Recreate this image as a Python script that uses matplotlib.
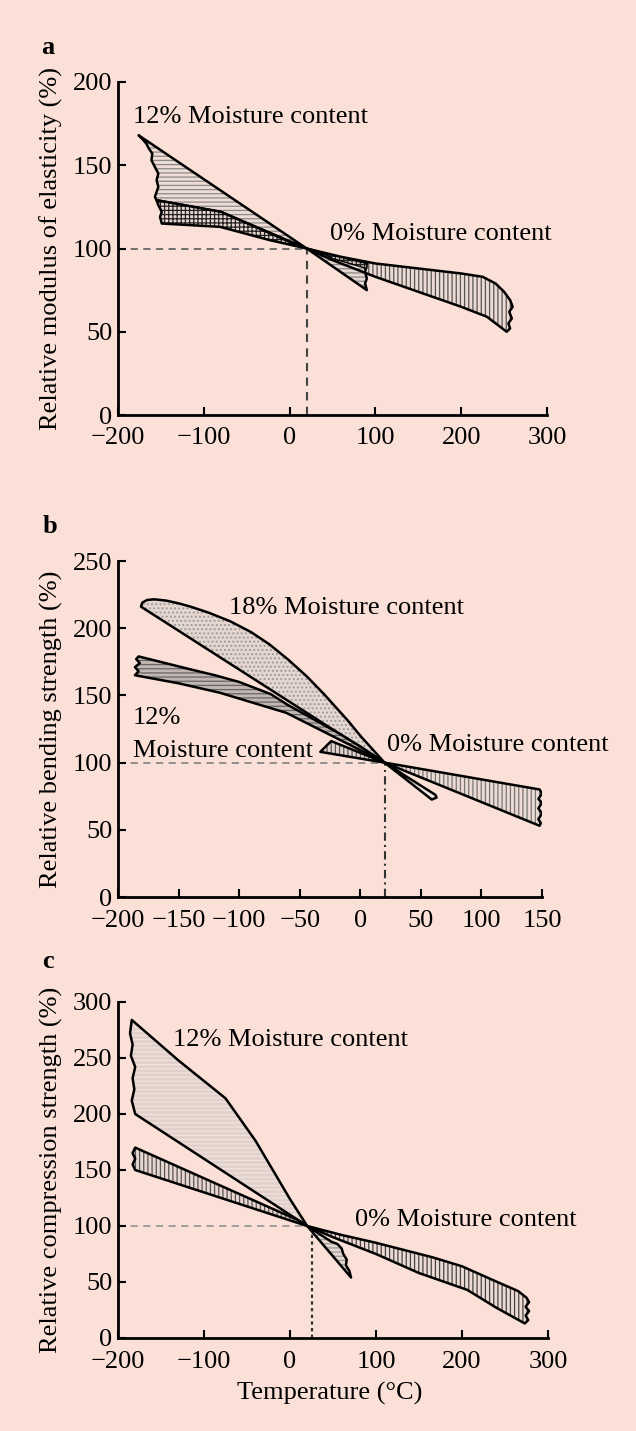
import matplotlib
matplotlib.use("Agg")
import matplotlib.pyplot as plt
from matplotlib.patches import Polygon

plt.rcParams['font.family'] = ['Liberation Serif', 'DejaVu Serif']
plt.rcParams['hatch.linewidth'] = 0.9
FS = 19
BG = '#fae0d7'

# ---------------- Panel a : relative modulus of elasticity ----------------
a_xticks = [-200, -100, 0, 100, 200, 300]
a_yticks = [0, 50, 100, 150, 200]
# 12% MC light region (outline)
a_mc12_T = [-176, 20, -80, -155, -157, -153, -155, -153, -158, -161, -160, -164, -167, -172, -176]
a_mc12_V = [168, 100, 122, 129, 131, 137, 141, 145, 150, 153, 157, 160, 163, 166, 168]
# 12% MC grid region
a_grid_T = [-155, -80, 0, 20, -23, -81, -149, -151, -149, -153, -155]
a_grid_V = [129, 122, 104, 100, 105, 113, 115, 119, 122, 126, 129]
# 0% MC big band
a_mc0_T = [20, 60, 100, 150, 200, 225, 240, 250, 257, 260, 256, 259, 255, 257, 253, 230, 200, 150, 100, 50, 20]
a_mc0_V = [100, 95, 91, 88, 85, 83, 79, 74, 69, 65, 62, 58, 55, 52, 50, 59, 65, 74, 83, 93, 100]
# small triangle
a_tri_T = [20, 45, 90, 88, 90, 88, 90, 20]
a_tri_V = [100, 96, 91, 86, 82, 79, 75, 100]
a_tgrid_T = [40, 90, 90, 50]
a_tgrid_V = [97, 91, 88, 94]

# ---------------- Panel b : relative bending strength ----------------
b_xticks = [-200, -150, -100, -50, 0, 50, 100, 150]
b_yticks = [0, 50, 100, 150, 200, 250]
b_mc18_T = [-181, -180, -176, -170, -160, -150, -140, -125, -107, -90, -75, -60, -44, -30, -20, -10, 0, 10, 20, -181]
b_mc18_V = [216, 219, 221, 221.5, 220.5, 218.5, 216, 211.5, 205, 197, 188, 177, 164, 151, 141, 131, 120, 110, 100, 216]
b_mc12_T = [-183, -143, -120, -100, -74, -60, -40, -20, 0, 20, -6, -61, -116, -150, -186, -183, -186, -182, -185, -183]
b_mc12_V = [179, 170, 165, 160, 151, 143, 133, 123, 112, 100, 112, 137, 152, 159, 165, 168, 171, 174, 177, 179]
b_tri_T = [-33, -24, 20, -33]
b_tri_V = [108, 116, 100, 108]
b_mc0_T = [20, 148, 150, 147, 150, 147, 150, 147, 149, 148, 20]
b_mc0_V = [100, 80, 77, 73, 70, 66, 62, 58, 55, 53, 100]
b_sl_T = [20, 62, 63, 59, 20]
b_sl_V = [100, 76, 74, 72.5, 100]

# ---------------- Panel c : relative compression strength ----------------
c_xticks = [-200, -100, 0, 100, 200, 300]
c_yticks = [0, 50, 100, 150, 200, 250, 300]
c_mc12_T = [-184, -130, -75, -40, 0, 20, -180, -184, -181, -183, -180, -185, -183, -186, -184]
c_mc12_V = [284, 248, 214, 176, 124, 100, 200, 212, 222, 232, 242, 252, 262, 272, 284]
c_band_T = [-180, 10, 20, -180, -183, -180, -183, -180]
c_band_V = [170, 105, 100, 150, 155, 160, 165, 170]
c_mc0_T = [20, 60, 100, 166, 200, 244, 265, 275, 278, 274, 278, 274, 277, 273, 240, 206, 150, 100, 50, 20]
c_mc0_V = [100, 92, 85, 72, 64, 49, 42, 36, 32, 28, 24, 20, 16, 13, 27, 43, 58, 75, 90, 100]
c_sm_T = [20, 38, 48, 55, 60, 62, 66, 65, 69, 71, 20]
c_sm_V = [100, 91, 86, 84, 80, 75, 70, 65, 60, 54, 100]

fig = plt.figure(figsize=(6.36, 14.31), dpi=100, facecolor=BG)
W, H = 636, 1431


def make_ax(left, right, top, bottom):
    ax = fig.add_axes([left / W, 1 - bottom / H, (right - left) / W, (bottom - top) / H])
    ax.set_facecolor(BG)
    for s in ['top', 'right']:
        ax.spines[s].set_visible(False)
    for s in ['left', 'bottom']:
        ax.spines[s].set_linewidth(2.0)
    ax.tick_params(direction='in', length=6, width=1.5, labelsize=FS, pad=4)
    ax.tick_params(axis='x', pad=9)
    return ax


def region(ax, T, V, hatch, hcol, fcol, lw=1.8, z=2):
    pts = list(zip(T, V))
    ax.add_patch(Polygon(pts, closed=True, facecolor=fcol, edgecolor=hcol,
                         hatch=hatch, linewidth=0, zorder=z))
    ax.add_patch(Polygon(pts, closed=True, facecolor='none', edgecolor='black',
                         linewidth=lw, joinstyle='round', zorder=z + 0.5))


# Panel a
ax = make_ax(118, 547, 82, 415)
ax.set_xlim(-200, 300); ax.set_ylim(0, 200)
ax.set_xticks(a_xticks); ax.set_yticks(a_yticks)
ax.plot([-200, 20], [100, 100], ls=(0, (4, 3)), color='#666666', lw=1.3, zorder=1)
ax.plot([20, 20], [0, 100], ls=(0, (4, 3)), color='#444444', lw=1.5, zorder=1)
region(ax, a_mc12_T, a_mc12_V, '----', '#8a8a8a', '#efdcd5')
region(ax, a_grid_T, a_grid_V, '++++', '#222222', '#e8d6cf', z=3)
region(ax, a_mc0_T, a_mc0_V, '||||', '#555555', '#ecdad3')
region(ax, a_tri_T, a_tri_V, '----', '#8a8a8a', '#e8d8d2')
region(ax, a_tgrid_T, a_tgrid_V, '++++', '#222222', '#d8c8c2', lw=1.0, z=4)
ax.text(-182, 179, '12% Moisture content', fontsize=FS, va='center', ha='left')
ax.text(47, 109, '0% Moisture content', fontsize=FS, va='center', ha='left')

# Panel b
ax = make_ax(118, 542, 561, 897)
ax.set_xlim(-200, 150); ax.set_ylim(0, 250)
ax.set_xticks(b_xticks); ax.set_yticks(b_yticks)
ax.plot([-200, 20], [100, 100], ls=(0, (4, 3)), color='#888888', lw=1.3, zorder=1)
ax.plot([20, 20], [0, 100], ls=(0, (4, 2, 1, 2)), color='#333333', lw=1.5, zorder=1)
region(ax, b_mc18_T, b_mc18_V, '....', '#9a9a9a', '#e6d6d0')
region(ax, b_mc12_T, b_mc12_V, '----', '#666666', '#c2b6b2', z=3)
region(ax, b_tri_T, b_tri_V, '||||', '#555555', '#e4d4ce')
region(ax, b_mc0_T, b_mc0_V, '||||', '#777777', '#ecdad3')
region(ax, b_sl_T, b_sl_V, '', '#777777', '#efe4e0')
ax.text(-108, 215, '18% Moisture content', fontsize=FS, va='center', ha='left')
ax.text(-188, 133, '12%', fontsize=FS, va='center', ha='left')
ax.text(-188, 109, 'Moisture content', fontsize=FS, va='center', ha='left')
ax.text(22, 113, '0% Moisture content', fontsize=FS, va='center', ha='left')

# Panel c
ax = make_ax(118, 548, 1002, 1338)
ax.set_xlim(-200, 300); ax.set_ylim(0, 300)
ax.set_xticks(c_xticks); ax.set_yticks(c_yticks)
ax.plot([-200, 20], [100, 100], ls=(0, (4, 3)), color='#999999', lw=1.3, zorder=1)
ax.plot([25, 25], [0, 100], ls=(0, (1.5, 1.5)), color='#333333', lw=1.6, zorder=1)
region(ax, c_mc12_T, c_mc12_V, '----', '#f0e4e0', '#e2d0ca')
region(ax, c_band_T, c_band_V, '||||', '#555555', '#e8d6cf', z=3)
region(ax, c_mc0_T, c_mc0_V, '||||', '#444444', '#ecdad3')
region(ax, c_sm_T, c_sm_V, '----', '#999999', '#e6d6d0')
ax.text(-136, 266, '12% Moisture content', fontsize=FS, va='center', ha='left')
ax.text(76, 105, '0% Moisture content', fontsize=FS, va='center', ha='left')

# labels
fig.text(51 / W, 1 - 248 / H, 'Relative modulus of elasticity (%)', rotation=90,
         ha='center', va='center', fontsize=FS)
fig.text(51 / W, 1 - 729 / H, 'Relative bending strength (%)', rotation=90,
         ha='center', va='center', fontsize=FS)
fig.text(51 / W, 1 - 1170 / H, 'Relative compression strength (%)', rotation=90,
         ha='center', va='center', fontsize=FS)
fig.text(330 / W, 1 - 1393 / H, 'Temperature (°C)', ha='center', va='center', fontsize=FS)
for lab, (px, py) in zip(['a', 'b', 'c'], [(48, 47), (50, 527), (48, 962)]):
    fig.text(px / W, 1 - py / H, lab, ha='center', va='center', fontsize=FS, fontweight='bold')

fig.savefig('out.png', dpi=100, facecolor=BG)
